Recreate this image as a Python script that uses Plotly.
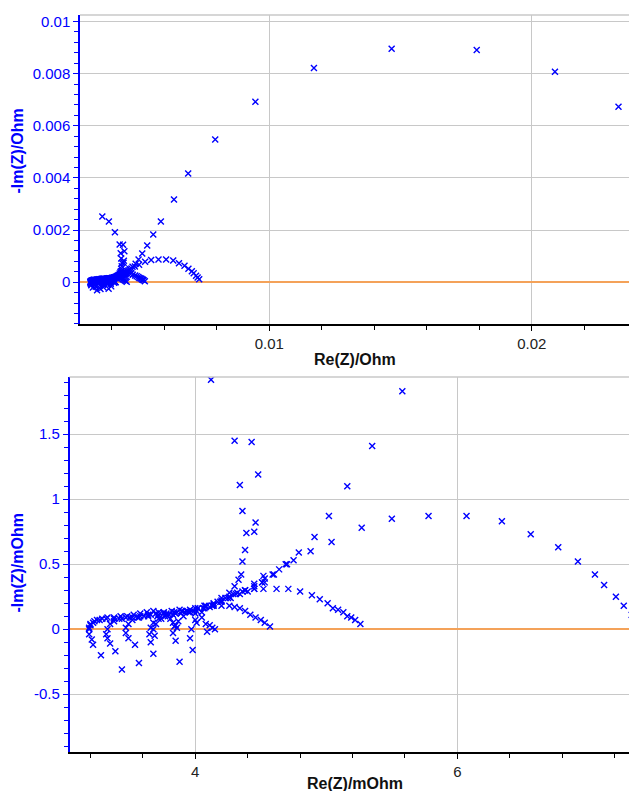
import plotly.graph_objects as go

# ---------------- data (values in mOhm) ----------------
spec1_re = [3.28, 3.22, 3.21, 3.19, 3.19, 3.20, 3.22, 3.25, 3.29, 3.33, 3.38, 3.43, 3.48, 3.53, 3.58, 3.63, 3.68, 3.72, 3.76, 3.79, 3.81, 3.83, 3.85, 3.86]
spec1_im = [-0.20, -0.12, -0.08, -0.04, 0.00, 0.03, 0.05, 0.07, 0.08, 0.09, 0.09, 0.10, 0.10, 0.11, 0.12, 0.13, 0.14, 0.13, 0.12, 0.10, 0.08, 0.05, 0.03, 0.01]

spec2_re = [3.44, 3.39, 3.35, 3.33, 3.32, 3.33, 3.35, 3.38, 3.42, 3.47, 3.52, 3.58, 3.64, 3.70, 3.76, 3.82, 3.88, 3.94, 4.00, 4.01, 4.05, 4.08, 4.11, 4.13, 4.15, 4.09]
spec2_im = [-0.31, -0.17, -0.11, -0.07, -0.04, 0.00, 0.04, 0.06, 0.08, 0.09, 0.09, 0.10, 0.11, 0.12, 0.13, 0.14, 0.15, 0.14, 0.12, 0.05, 0.09, 0.04, 0.03, 0.01, 0.00, -0.02]

spec3_re = [3.57, 3.54, 3.49, 3.47, 3.47, 3.49, 3.52, 3.56, 3.61, 3.66, 3.72, 3.78, 3.84, 3.90, 3.96, 4.02, 4.08, 4.14, 4.20, 4.26, 4.30, 4.34, 4.38, 4.42, 4.46, 4.50, 4.53, 4.57]
spec3_im = [-0.26, -0.12, -0.07, -0.03, 0.01, 0.04, 0.07, 0.09, 0.10, 0.11, 0.11, 0.12, 0.13, 0.14, 0.15, 0.16, 0.17, 0.18, 0.18, 0.18, 0.17, 0.16, 0.14, 0.11, 0.09, 0.07, 0.05, 0.02]

spec4_re = [3.68, 3.66, 3.65, 3.66, 3.68, 3.72, 3.77, 3.83, 3.89, 3.95, 4.01, 4.07, 4.13, 4.19, 4.25, 4.31, 4.38, 4.45, 4.52, 4.62, 4.71, 4.80, 4.89, 4.95, 5.01, 5.05, 5.09, 5.13, 5.16, 5.19, 5.22, 5.26]
spec4_im = [-0.19, -0.10, -0.04, 0.01, 0.05, 0.08, 0.10, 0.11, 0.12, 0.13, 0.14, 0.16, 0.18, 0.21, 0.24, 0.27, 0.30, 0.31, 0.31, 0.31, 0.31, 0.29, 0.26, 0.23, 0.20, 0.16, 0.15, 0.13, 0.10, 0.09, 0.07, 0.04]

spec5_re = [3.88, 3.85, 3.83, 3.84, 3.87, 3.91, 3.96, 4.02, 4.08, 4.14, 4.20, 4.26, 4.32, 4.38, 4.45, 4.53, 4.59, 4.64, 4.69, 4.75, 4.88, 5.04, 5.27, 5.50, 5.78, 6.07, 6.34, 6.56, 6.77, 6.92, 7.05, 7.12, 7.21, 7.27, 7.33]
spec5_im = [-0.25, -0.09, -0.03, 0.02, 0.06, 0.10, 0.13, 0.16, 0.18, 0.19, 0.22, 0.25, 0.28, 0.30, 0.33, 0.39, 0.42, 0.46, 0.50, 0.53, 0.60, 0.67, 0.78, 0.85, 0.87, 0.87, 0.83, 0.73, 0.63, 0.52, 0.42, 0.34, 0.25, 0.18, 0.11]

spec6_re = [3.98, 3.96, 3.97, 4.00, 4.05, 4.11, 4.17, 4.23, 4.29, 4.36, 4.45, 4.51, 4.60, 4.70, 4.79, 4.91, 5.02, 5.16, 5.35, 5.58, 5.87, 6.37, 6.91, 7.94, 9.47, 11.70, 14.66, 17.90, 20.88, 23.30]
spec6_im = [-0.16, -0.07, 0.00, 0.07, 0.13, 0.17, 0.21, 0.24, 0.27, 0.29, 0.35, 0.36, 0.42, 0.50, 0.59, 0.71, 0.87, 1.10, 1.41, 1.83, 2.33, 3.17, 4.17, 5.47, 6.92, 8.22, 8.95, 8.91, 8.07, 6.73]

spec7_re = [3.69, 3.68, 3.70, 3.74, 3.80, 3.86, 3.93, 4.00, 4.07, 4.14, 4.20, 4.26, 4.30, 4.33, 4.35, 4.36, 4.38, 4.39, 4.36, 4.34, 4.30, 4.12, 3.89, 3.64]
spec7_im = [-0.05, 0.00, 0.04, 0.08, 0.11, 0.13, 0.14, 0.16, 0.18, 0.20, 0.24, 0.28, 0.33, 0.38, 0.42, 0.52, 0.61, 0.74, 0.91, 1.11, 1.45, 1.92, 2.33, 2.52]

spec8_re = [3.19, 3.20, 3.23, 3.27, 3.32, 3.38, 3.44, 3.50, 3.57, 3.64, 3.71, 3.78, 3.85, 3.92, 3.99, 4.06, 4.13, 4.20, 4.27, 4.34, 4.40, 4.45, 4.51, 4.52, 4.53, 4.45, 4.46, 4.48, 4.43]
spec8_im = [0.01, 0.04, 0.06, 0.07, 0.08, 0.08, 0.08, 0.09, 0.09, 0.10, 0.10, 0.11, 0.12, 0.13, 0.14, 0.16, 0.18, 0.21, 0.24, 0.27, 0.29, 0.31, 0.36, 0.41, 0.36, 0.75, 0.82, 1.19, 1.44]

series_re = [spec1_re, spec2_re, spec3_re, spec4_re, spec5_re, spec6_re, spec7_re, spec8_re]
series_im = [spec1_im, spec2_im, spec3_im, spec4_im, spec5_im, spec6_im, spec7_im, spec8_im]

top_xticks = [0.01, 0.02]
top_xtext = ["0.01", "0.02"]
top_yticks = [0, 0.002, 0.004, 0.006, 0.008, 0.01]
top_ytext = ["0", "0.002", "0.004", "0.006", "0.008", "0.01"]
bot_xticks = [4, 6]
bot_xtext = ["4", "6"]
bot_yticks = [-0.5, 0, 0.5, 1, 1.5]
bot_ytext = ["-0.5", "0", "0.5", "1", "1.5"]

# ---------------- figure ----------------
W, H = 629, 791
BLUE = "#0000ff"
ORANGE = "#f4a259"
GRID = "#c8c8c8"
FONT = "Liberation Sans, Arial, sans-serif"

fig = go.Figure()
marker = dict(symbol="x-thin", size=6, line=dict(width=1.4, color=BLUE), color=BLUE)
for re_, im_ in zip(series_re, series_im):
    fig.add_trace(go.Scatter(x=[v / 1000 for v in re_], y=[v / 1000 for v in im_], mode="markers",
                             marker=marker, xaxis="x", yaxis="y", showlegend=False, cliponaxis=True))
    fig.add_trace(go.Scatter(x=re_, y=im_, mode="markers",
                             marker=marker, xaxis="x2", yaxis="y2", showlegend=False, cliponaxis=True))

# pixel geometry
t_left, t_top, t_bot = 80, 13, 323
b_left, b_top, b_bot = 69.5, 376, 752

def xdom(l):
    return [l / W, 1]

def ydom(t, b):
    return [1 - b / H, 1 - t / H]

common_x = dict(showline=True, linecolor="black", linewidth=1.5, ticks="outside", ticklen=5,
                tickcolor="black", tickwidth=1, showgrid=True, gridcolor=GRID, gridwidth=1,
                zeroline=False, tickfont=dict(family=FONT, size=15, color="#222"), tickmode="array")
common_y = dict(showline=True, linecolor=BLUE, linewidth=1.5, ticks="outside", ticklen=5,
                tickcolor=BLUE, tickwidth=1, showgrid=True, gridcolor=GRID, gridwidth=1,
                zeroline=True, zerolinecolor=ORANGE, zerolinewidth=2,
                tickfont=dict(family=FONT, size=15, color=BLUE), tickmode="array")

fig.update_layout(
    width=W, height=H, margin=dict(l=0, r=0, t=0, b=0), paper_bgcolor="white", plot_bgcolor="white",
    xaxis=dict(common_x, domain=xdom(t_left), range=[0.00279, 0.0237], anchor="y",
               tickvals=top_xticks, ticktext=top_xtext,
               minor=dict(ticks="outside", ticklen=4, tickcolor="black", tickmode="linear", tick0=0, dtick=0.002, showgrid=False)),
    yaxis=dict(common_y, domain=ydom(t_top, t_bot), range=[-0.00161, 0.01025], anchor="x",
               tickvals=top_yticks, ticktext=top_ytext,
               minor=dict(ticks="outside", ticklen=4, tickcolor=BLUE, tickmode="linear", tick0=0, dtick=0.0004, showgrid=False)),
    xaxis2=dict(common_x, domain=xdom(b_left), range=[3.04, 7.31], anchor="y2",
                tickvals=bot_xticks, ticktext=bot_xtext,
                minor=dict(ticks="outside", ticklen=4, tickcolor="black", tickmode="linear", tick0=0, dtick=0.4, showgrid=False)),
    yaxis2=dict(common_y, domain=ydom(b_top, b_bot), range=[-0.946, 1.94], anchor="x2",
                tickvals=bot_yticks, ticktext=bot_ytext,
                minor=dict(ticks="outside", ticklen=4, tickcolor=BLUE, tickmode="linear", tick0=0, dtick=0.1, showgrid=False)),
)

# top border lines of both plot areas
for xr, yr in (("x domain", "y domain"), ("x2 domain", "y2 domain")):
    fig.add_shape(type="line", xref=xr, yref=yr, x0=0, x1=1, y0=1, y1=1, line=dict(color=GRID, width=1.5))

# axis titles
title_font_x = dict(family=FONT, size=16, color="#111")
title_font_y = dict(family=FONT, size=16, color=BLUE)
fig.add_annotation(text="<b>Re(Z)/Ohm</b>", xref="paper", yref="paper", x=354.5 / W, y=1 - 358 / H,
                   showarrow=False, font=title_font_x, xanchor="center", yanchor="middle")
fig.add_annotation(text="<b>Re(Z)/mOhm</b>", xref="paper", yref="paper", x=355 / W, y=1 - 783 / H,
                   showarrow=False, font=title_font_x, xanchor="center", yanchor="middle")
fig.add_annotation(text="<b>-Im(Z)/Ohm</b>", xref="paper", yref="paper", x=18 / W, y=1 - 150 / H, textangle=-90,
                   showarrow=False, font=title_font_y, xanchor="center", yanchor="middle")
fig.add_annotation(text="<b>-Im(Z)/mOhm</b>", xref="paper", yref="paper", x=18 / W, y=1 - 562 / H, textangle=-90,
                   showarrow=False, font=title_font_y, xanchor="center", yanchor="middle")

fig.write_html("out.html")
